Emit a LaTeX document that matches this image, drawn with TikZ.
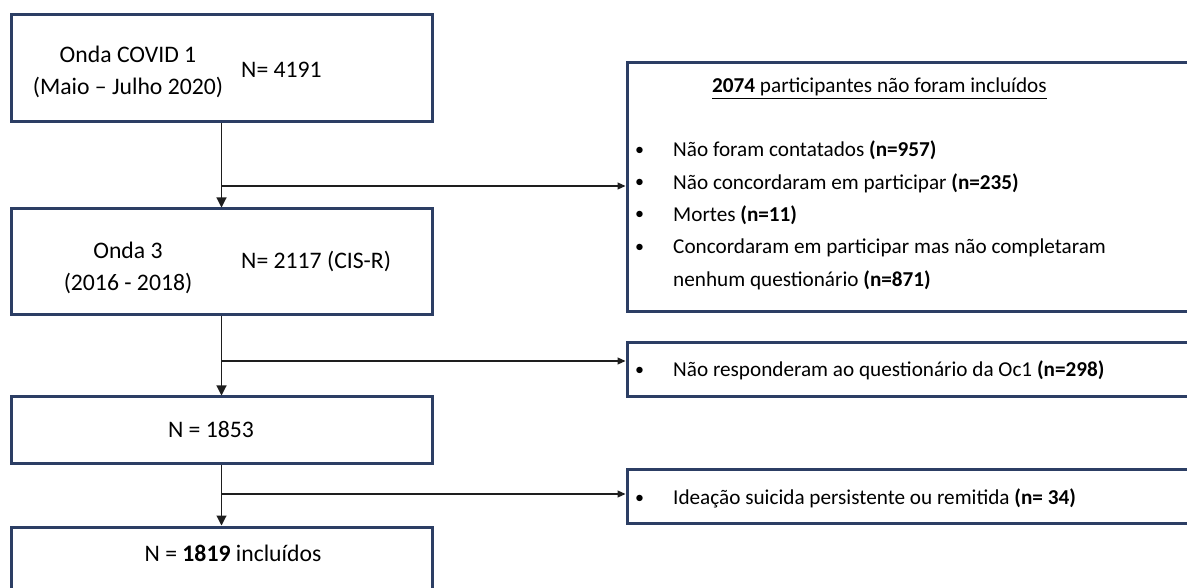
\documentclass[tikz,border=0pt]{standalone}
\usepackage{fontspec}
\setmainfont{Carlito}
\usepackage{tikz}
\usetikzlibrary{positioning,arrows.meta}
\definecolor{boxclr}{RGB}{44,62,100}
\definecolor{lineclr}{RGB}{30,30,30}
\newcommand{\bul}{\raisebox{1.8pt}{\fontsize{18}{18}\selectfont\textbullet}}
\tikzset{
  stage/.style={rectangle,draw=boxclr,line width=3pt,
                minimum width=421pt,inner sep=0pt},
  excl/.style={rectangle,draw=boxclr,line width=3pt,
               minimum width=573pt,inner sep=0pt},
  lbl/.style={inner sep=0pt,font=\fontsize{23.7}{32}\selectfont},
  note/.style={inner sep=0pt,font=\fontsize{21.2}{32.3}\selectfont},
  flow/.style={-{Triangle[length=10pt,width=10pt]},line width=1.1pt,draw=lineclr},
  edge/.style={-{Triangle[length=8pt,width=7pt]},line width=1.1pt,draw=lineclr},
}

\begin{document}
\begin{tikzpicture}[x=1pt, y=1pt]
\useasboundingbox (0,0) rectangle (1187,587);
\clip (0,0) rectangle (1187,587);

% left column: the waves
\node[stage,minimum height=107pt] (boxA) at (221.5,518.5) {};
\node[stage,minimum height=106pt] (boxB) at (221.5,325) {};
\node[stage,minimum height=67pt] (boxC) at (221.5,156.5) {};
\node[stage,minimum height=80pt] (boxD) at (221.5,20) {};

\node[lbl,align=center] (wave1) at (128,515) {Onda COVID 1\\(Maio – Julho 2020)};
\node[lbl,anchor=base west] (nA) at (241,509) {N= 4191};
\node[lbl,align=center] (wave3) at (128,319) {Onda 3\\(2016 - 2018)};
\node[lbl,anchor=base west] (nB) at (241,318) {N= 2117 (CIS-R)};
\node[lbl,anchor=base] (nC) at (211,149) {N = 1853};
\node[lbl,anchor=base] (nD) at (233,26) {N = \textbf{1819} incluídos};

% right column: exclusions
\node[excl,minimum height=249pt] (boxE) at (913.5,399.5) {};
\node[excl,minimum height=54pt] (boxF) at (913.5,217) {};
\node[excl,minimum height=53pt] (boxG) at (913.5,90.5) {};

\node[note,anchor=base] (exctitle) at (879.5,494)
  {\underline{\textbf{2074} participantes não foram incluídos}};
\node[note,anchor=base west] (exclist) at (635,430) {%
  \begin{tabular}[t]{@{}p{38pt}@{}l@{}}
  \bul & Não foram contatados \textbf{(n=957)}\\
  \bul & Não concordaram em participar \textbf{(n=235)}\\
  \bul & Mortes \textbf{(n=11)}\\
  \bul & Concordaram em participar mas não completaram\\
       & nenhum questionário \textbf{(n=871)}
  \end{tabular}};
\node[note,anchor=base west] (excF) at (635,210)
  {\makebox[38pt][l]{\bul}Não responderam ao questionário da Oc1 \textbf{(n=298)}};
\node[note,anchor=base west] (excG) at (635,82)
  {\makebox[38pt][l]{\bul}Ideação suicida persistente ou remitida \textbf{(n= 34)}};

% connectors
\draw[flow] (boxA) -- (boxB);
\draw[flow] (boxB) -- (boxC);
\draw[flow] (boxC) -- (boxD);

\coordinate (brA) at (221.5,401);
\coordinate (brB) at (221.5,226);
\coordinate (brC) at (221.5,93);
\draw[edge] (brA) -- (brA -| boxE.west);
\draw[edge] (brB) -- (brB -| boxF.west);
\draw[edge] (brC) -- (brC -| boxG.west);
\end{tikzpicture}
\end{document}
